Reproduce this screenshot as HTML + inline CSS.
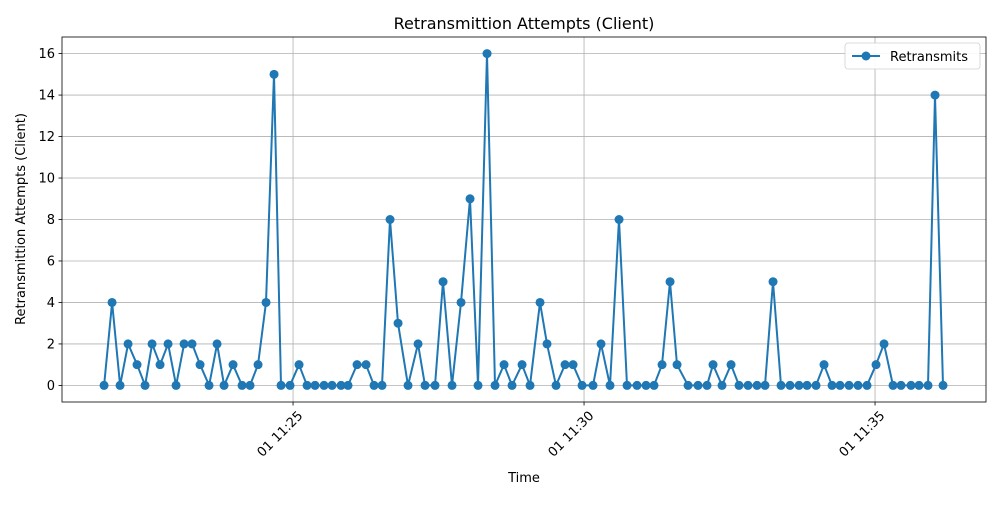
<!DOCTYPE html>
<html><head><meta charset="utf-8"><style>
body{margin:0;background:#fff;font-family:"Liberation Sans","DejaVu Sans",sans-serif}
svg text{font-family:"DejaVu Sans","Liberation Sans",sans-serif}
</style></head><body>
<svg id="chart" width="1000" height="500" viewBox="0 0 1000 500" xmlns="http://www.w3.org/2000/svg">
<rect width="1000" height="500" fill="#fff"/>
<g id="grid"></g>
<g id="series"></g>
<rect x="62" y="37" width="924" height="365" fill="none" stroke="#000" stroke-width="0.8"/>
<g id="axes"></g>
<text x="524" y="29" text-anchor="middle" font-size="16">Retransmittion Attempts (Client)</text>
<text x="524" y="482" text-anchor="middle" font-size="13">Time</text>
<text transform="translate(25,219) rotate(-90)" text-anchor="middle" font-size="13">Retransmittion Attempts (Client)</text>
<g>
<rect x="845" y="43" width="135" height="26" rx="3" fill="#fff" stroke="#ccc" stroke-width="0.8" opacity="0.9"/>
<line x1="852" y1="56" x2="880" y2="56" stroke="#1f77b4" stroke-width="2"/>
<circle cx="866" cy="56" r="4.5" fill="#1f77b4"/>
<text x="890" y="61" font-size="13">Retransmits</text>
</g>
</svg>
<script>
// sample positions (estimated time coordinate, chart units: 293 = 11:25, 58.2 per minute)
const times=[104,112,120,128,137,145,152,160,168,176,184,192,200,209,217,224,233,242,250,258,266,274,281,290,299,307,315,324,332,341,348,357,366,374,382,390,398,408,418,425,435,443,452,461,470,478,487,495,504,512,522,530,540,547,556,565,573,582,593,601,610,619,627,637,646,654,662,670,677,688,698,707,713,722,731,739,748,757,765,773,781,790,799,807,816,824,832,840,849,858,867,876,884,893,901,911,919,928,935,943];
const values=[0,4,0,2,1,0,2,1,2,0,2,2,1,0,2,0,1,0,0,1,4,15,0,0,1,0,0,0,0,0,0,1,1,0,0,8,3,0,2,0,0,5,0,4,9,0,16,0,1,0,1,0,4,2,0,1,1,0,0,2,0,8,0,0,0,0,1,5,1,0,0,0,1,0,1,0,0,0,0,5,0,0,0,0,0,1,0,0,0,0,0,1,2,0,0,0,0,0,14,0];
const yTicks=[0,2,4,6,8,10,12,14,16];
const xTicks=[300,600,900];
const xTickLabels=["01 11:25","01 11:30","01 11:35"];
</script>
<script>
(function(){
const NS="http://www.w3.org/2000/svg";
const secs=times.map(p=>(p-293)/58.2*60+300);
const X=s=>62+(s-61.8)/(1014.4-61.8)*924;
const Y=v=>402-(v+0.8)/17.6*365;
const grid=document.getElementById('grid'),axes=document.getElementById('axes'),ser=document.getElementById('series');
function mk(tag,at,parent){const e=document.createElementNS(NS,tag);for(const k in at)e.setAttribute(k,at[k]);parent.appendChild(e);return e;}
yTicks.forEach(t=>{
 const y=Y(t);
 const g=mk('line',{x1:62,x2:986,y1:y,y2:y,stroke:'#b0b0b0','stroke-width':0.8},grid);
 
 
 mk('line',{x1:58.5,x2:62,y1:y,y2:y,stroke:'#000','stroke-width':0.8},axes);
 const tx=mk('text',{x:55,y:y+4.5,'text-anchor':'end','font-size':13},axes);
 tx.textContent=t;
 
 
});
xTicks.forEach((t,i)=>{
 const x=X(t);
 const g=mk('line',{x1:x,x2:x,y1:37,y2:402,stroke:'#b0b0b0','stroke-width':0.8},grid);
 
 
 mk('line',{x1:x,x2:x,y1:402,y2:405.5,stroke:'#000','stroke-width':0.8},axes);
 const tx=mk('text',{x:x+4,y:410,'text-anchor':'end','font-size':13,transform:`rotate(-45 ${x+4} 410)`},axes);
 tx.setAttribute('dy','0.7em');
 tx.textContent=xTickLabels[i];
 
 
});
const pts=secs.map((s,i)=>X(s).toFixed(1)+','+Y(values[i]).toFixed(1)).join(' ');
const pl=mk('polyline',{points:pts,fill:'none',stroke:'#1f77b4','stroke-width':2,'stroke-linejoin':'round'},ser);


secs.forEach((s,i)=>{
 const c=mk('circle',{cx:X(s),cy:Y(values[i]),r:4.5,fill:'#1f77b4'},ser);
 
 
});
})();
</script>
</body></html>
